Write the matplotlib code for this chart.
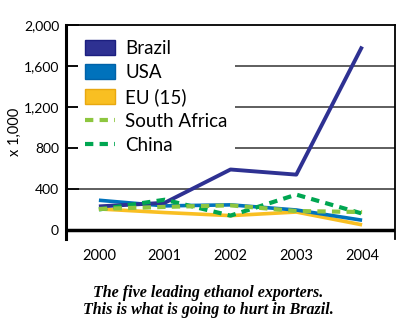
import matplotlib
matplotlib.use("Agg")
import matplotlib.pyplot as plt
from matplotlib.patches import Patch
from matplotlib.lines import Line2D

years = ["2000", "2001", "2002", "2003", "2004"]
brazil = [230, 265, 590, 540, 1790]
usa = [290, 235, 245, 195, 95]
eu = [205, 170, 140, 175, 50]
south_africa = [205, 225, 240, 185, 175]
china = [200, 295, 140, 345, 160]

y_ticks = [0, 400, 800, 1200, 1600, 2000]
y_labels = ["0", "400", "800", "1,200", "1,600", "2,000"]

c_brazil = "#2e3192"
c_usa = "#0072bc"
c_eu = "#f9bf22"
c_sa = "#8dc63f"
c_china = "#00a651"

plt.rcParams["font.family"] = ["Lato", "DejaVu Sans"]

fig = plt.figure(figsize=(4, 3.29), dpi=100)
ax = fig.add_axes([0.165, 0.2736, 0.8225, 0.6504])

x = list(range(len(years)))
dash = (0, (2.0, 1.5))
ax.plot(x, eu, color=c_eu, lw=2.6, solid_capstyle="butt", zorder=3)
ax.plot(x, usa, color=c_usa, lw=2.6, solid_capstyle="butt", zorder=4)
ax.plot(x, brazil, color=c_brazil, lw=2.8, solid_capstyle="butt", zorder=5)
ax.plot(x, china, color=c_china, lw=3, ls=dash, zorder=6)
ax.plot(x, south_africa, color=c_sa, lw=3, ls=dash, zorder=7)

ax.axhline(0, color="black", lw=2.5, zorder=8)
for v in [400, 800, 1200, 1600]:
    ax.axhline(v, color="#333333", lw=1.1, zorder=1)

ax.set_xlim(-0.5, 4.5)
ax.set_ylim(-88, 2000)
ax.set_xticks(x)
ax.set_xticklabels(years, fontsize=10.5)
ax.tick_params(axis="x", length=0, pad=7)
ax.set_yticks(y_ticks)
ax.set_yticklabels(y_labels, fontsize=10)
ax.tick_params(axis="y", direction="in", length=9, width=1.2, pad=5)
ax.set_ylabel("x 1,000", fontsize=10.5)
ax.yaxis.set_label_coords(-0.135, 0.5)

ax.spines["bottom"].set_visible(False)
ax.spines["left"].set_linewidth(2.2)
ax.spines["top"].set_linewidth(1.3)
ax.spines["right"].set_linewidth(1.3)

handles = [
    Patch(facecolor=c_brazil, edgecolor="#1c1f80", label="Brazil"),
    Patch(facecolor=c_usa, edgecolor="#0062a8", label="USA"),
    Patch(facecolor=c_eu, edgecolor="#e8a810", label="EU (15)"),
    Line2D([], [], color=c_sa, lw=3, ls=dash, label="South Africa"),
    Line2D([], [], color=c_china, lw=3, ls=dash, label="China"),
]
leg = ax.legend(handles=handles, loc="upper left", bbox_to_anchor=(0.036, 0.966),
                fontsize=13.5, frameon=True, facecolor="white", edgecolor="none",
                framealpha=1, handlelength=1.6, handleheight=0.85, handletextpad=0.53,
                labelspacing=0.38, borderaxespad=0, borderpad=0.4)
leg.set_zorder(2)

fig.text(0.52, 0.0836, "The five leading ethanol exporters.\nThis is what is going to hurt in Brazil.",
         ha="center", va="center", fontsize=11.5, family="Liberation Serif",
         style="italic", weight="bold", linespacing=1.05)

fig.savefig("out.png", dpi=100)
